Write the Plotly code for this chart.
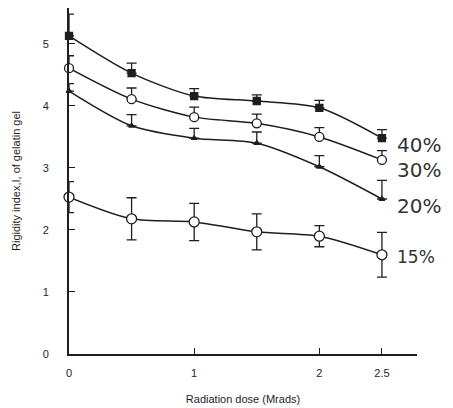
import plotly.graph_objects as go

dose = [0, 0.5, 1, 1.5, 2, 2.5]
s40 = [5.13, 4.53, 4.16, 4.08, 3.97, 3.48]
s30 = [4.61, 4.11, 3.82, 3.72, 3.50, 3.13]
s20 = [4.24, 3.68, 3.48, 3.40, 3.02, 2.50]
s15 = [2.53, 2.18, 2.13, 1.97, 1.90, 1.60]
e40 = [0.35, 0.16, 0.12, 0.10, 0.12, 0.14]
e30 = [0.20, 0.18, 0.16, 0.15, 0.15, 0.15]
e20 = [0.12, 0.18, 0.16, 0.18, 0.18, 0.30]
e15 = [0.25, 0.34, 0.30, 0.29, 0.17, 0.36]
labels = ["40%", "30%", "20%", "15%"]
xticks = [0, 1, 2, 2.5]
xticklabels = ["0", "1", "2", "2.5"]
yticks = [0, 1, 2, 3, 4, 5]

ink = "#1e1e1e"
fig = go.Figure()

def add(y, err, sym, size, fill, minus=None):
    ey = dict(type="data", array=err, color=ink, thickness=1.3, width=5)
    if minus is not None:
        ey.update(symmetric=False, arrayminus=minus)
    fig.add_trace(go.Scatter(
        x=dose, y=y, mode="lines+markers",
        line=dict(color=ink, width=1.5, shape="spline", smoothing=0.8),
        marker=dict(symbol=sym, size=size, color=fill, line=dict(color=ink, width=1.3)),
        error_y=ey, showlegend=False, cliponaxis=False))

zeros = [0] * len(dose)
add(s40, e40, "square", 7, ink, zeros)
add(s30, e30, "circle", 9, "white", zeros)
add(s20, e20, "triangle-up", 5, ink, zeros)
add(s15, e15, "circle", 10, "white")

ends = [s40[-1], s30[-1], s20[-1], s15[-1]]
offs = [-0.11, -0.16, -0.11, -0.04]
sizes = [20, 20, 20, 17]
for lab, yv, o, fs in zip(labels, ends, offs, sizes):
    fig.add_annotation(x=dose[-1], y=yv + o, text=lab, showarrow=False,
                       xanchor="left", xshift=13,
                       font=dict(family="DejaVu Sans", size=fs, color="#333"))

fig.update_layout(
    width=453, height=408, margin=dict(l=69, r=36, t=8, b=54),
    paper_bgcolor="white", plot_bgcolor="white",
    font=dict(family="Liberation Sans, Arial", color=ink, size=11),
    xaxis=dict(range=[0, 2.78], tickvals=xticks, ticktext=xticklabels,
               ticks="inside", ticklen=6, tickcolor=ink, showline=True,
               linecolor=ink, linewidth=2, showgrid=False, zeroline=False,
               ticklabelstandoff=8, automargin=False,
               title=dict(text="Radiation dose (Mrads)", standoff=17,
                          font=dict(size=11))),
    yaxis=dict(range=[0, 5.58], tickvals=yticks, ticks="inside", ticklen=6,
               tickcolor=ink, showline=True, linecolor=ink, linewidth=2,
               showgrid=False, zeroline=False, ticklabelstandoff=16,
               automargin=False,
               title=dict(text="Rigidity index,I, of gelatin gel", standoff=20,
                          font=dict(size=11))),
)
fig.write_html("out.html")
